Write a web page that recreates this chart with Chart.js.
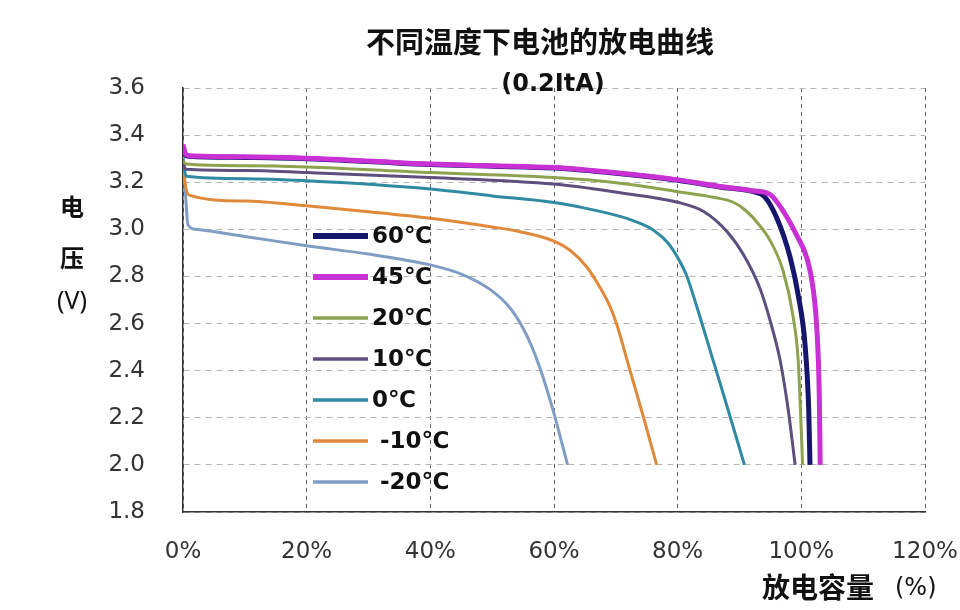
<!DOCTYPE html>
<html>
<head>
<meta charset="utf-8">
<script src="https://cdn.jsdelivr.net/npm/chart.js@4/dist/chart.umd.min.js"></script>
<style>
    body { margin: 0; background: #ffffff; }
</style>
</head>
<body>
<canvas id="grafico" width="960" height="610"></canvas>
<script>
const titulo = '不同温度下电池的放电曲线';
const subtitulo = '(0.2ItA)';

const labelsTemp = ['60℃', '45℃', '20℃', '10℃', '0℃', ' -10℃', ' -20℃'];

const ticksX = [0, 20, 40, 60, 80, 100, 120];
const ticksY = [1.8, 2.0, 2.2, 2.4, 2.6, 2.8, 3.0, 3.2, 3.4, 3.6];

// capacidade (%) / tensao (V) de cada curva
const cap60 = [0, 0.4, 1, 10, 20, 30, 40, 50, 60, 70, 80, 86.8, 92.2, 94, 96, 98.2, 99.5, 100.6, 101.2, 101.4];
const ten60 = [3.35, 3.315, 3.31, 3.305, 3.30, 3.288, 3.275, 3.268, 3.26, 3.238, 3.208, 3.18, 3.16, 3.14, 3.05, 2.88, 2.72, 2.51, 2.23, 2.0];

const cap45 = [0, 0.4, 1, 10, 20, 30, 40, 50, 60, 70, 80, 86.8, 92.2, 95, 97.1, 99.2, 100.9, 101.9, 102.5, 102.9, 103.05];
const ten45 = [3.36, 3.32, 3.312, 3.308, 3.302, 3.29, 3.277, 3.27, 3.262, 3.24, 3.21, 3.182, 3.164, 3.147, 3.076, 2.977, 2.878, 2.75, 2.58, 2.30, 2.0];

const cap20 = [0, 0.5, 10, 20, 40, 60, 70.7, 80, 86, 89, 91, 93, 95, 97.1, 98.7, 99.5, 100, 100.2];
const ten20 = [3.29, 3.277, 3.27, 3.265, 3.241, 3.22, 3.196, 3.16, 3.135, 3.115, 3.08, 3.025, 2.95, 2.82, 2.625, 2.44, 2.14, 2.0];

const cap10 = [0, 0.5, 10, 20, 40, 60, 70.7, 80, 84.2, 88, 90.7, 93.3, 95, 96.6, 97.9, 99];
const ten10 = [3.28, 3.255, 3.25, 3.241, 3.22, 3.192, 3.155, 3.115, 3.076, 2.99, 2.89, 2.75, 2.608, 2.44, 2.23, 2.0];

const cap0 = [0, 0.5, 10, 20, 40, 50, 60, 65, 70.7, 73, 76.1, 78.5, 80, 81.5, 83, 85.2, 87.4, 90.8];
const ten0 = [3.30, 3.225, 3.215, 3.206, 3.171, 3.142, 3.114, 3.09, 3.055, 3.035, 2.996, 2.94, 2.88, 2.8, 2.68, 2.49, 2.30, 2.0];

const capM10 = [0, 0.3, 1, 10, 20, 30, 40, 50, 54.5, 60, 62.6, 65.3, 67.4, 69.1, 70.1, 72.3, 74.5, 76.6];
const tenM10 = [3.28, 3.2, 3.145, 3.12, 3.10, 3.075, 3.047, 3.01, 2.99, 2.95, 2.911, 2.84, 2.755, 2.67, 2.6, 2.4, 2.2, 2.0];

const capM20 = [0, 0.3, 0.8, 2, 10, 20, 30, 40, 45.3, 49.7, 52.9, 55, 56.6, 58, 59.2, 60.2, 61.2, 62.2];
const tenM20 = [3.33, 3.2, 3.02, 3.0, 2.97, 2.93, 2.895, 2.849, 2.807, 2.744, 2.666, 2.58, 2.49, 2.39, 2.29, 2.2, 2.1, 2.0];

const cores = ['#15166c', '#c931d4', '#8ea24f', '#5d4f7e', '#2f8aa2', '#e0893b', '#809dc3'];
const espessuras = [5, 5, 3, 3, 3, 3, 3];
const ordens = [1, 0, 2, 3, 4, 5, 6];

const curvas = [
    [cap60, ten60], [cap45, ten45], [cap20, ten20], [cap10, ten10],
    [cap0, ten0], [capM10, tenM10], [capM20, tenM20]
];

const datasets = curvas.map(([cap, ten], i) => ({
    label: labelsTemp[i],
    data: cap.map((c, j) => ({ x: c, y: ten[j] })),
    borderColor: cores[i],
    backgroundColor: cores[i],
    borderWidth: espessuras[i],
    pointRadius: 0,
    cubicInterpolationMode: 'monotone',
    order: ordens[i]
}));

// legenda dentro da area do grafico
const legendaInterna = {
    id: 'legendaInterna',
    afterDatasetsDraw(chart) {
        const { ctx, chartArea } = chart;
        const x0 = chartArea.left + 130;
        const y0 = chartArea.top + 148;
        ctx.save();
        ctx.font = 'bold 23px "DejaVu Sans", "Noto Sans CJK SC"';
        ctx.textBaseline = 'middle';
        ctx.fillStyle = '#111111';
        datasets.forEach((ds, i) => {
            const y = y0 + i * 41;
            ctx.strokeStyle = ds.borderColor;
            ctx.lineWidth = i < 2 ? 6 : 3.5;
            ctx.beginPath();
            ctx.moveTo(x0, y);
            ctx.lineTo(x0 + 55, y);
            ctx.stroke();
            ctx.fillText(ds.label, x0 + 59, y + 1);
        });
        ctx.restore();
    }
};

// titulos
const textos = {
    id: 'textos',
    afterDraw(chart) {
        const { ctx } = chart;
        ctx.save();
        ctx.fillStyle = '#111111';
        ctx.textBaseline = 'middle';
        ctx.textAlign = 'center';
        ctx.font = 'bold 29px "Noto Sans CJK SC"';
        ctx.fillText(titulo, 540, 42);
        ctx.font = 'bold 24px "DejaVu Sans"';
        ctx.fillText(subtitulo, 553, 85);

        ctx.font = 'bold 24px "Noto Sans CJK SC"';
        ctx.fillText('电', 72, 207);
        ctx.fillText('压', 72, 258);
        ctx.font = '25px "Noto Sans"';
        ctx.fillText('(V)', 72, 302);

        ctx.textAlign = 'left';
        ctx.font = 'bold 28px "Noto Sans CJK SC"';
        ctx.fillText('放电容量', 762, 587);
        ctx.font = '24px "DejaVu Sans"';
        ctx.fillText('(%)', 895, 589);
        ctx.restore();
    }
};

const config = {
    type: 'line',
    data: { datasets: datasets },
    options: {
        responsive: false,
        animation: false,
        layout: { padding: { left: 0, top: 88, right: 35, bottom: 0 } },
        plugins: {
            legend: { display: false },
            title: { display: false },
            tooltip: { enabled: false }
        },
        scales: {
            x: {
                type: 'linear',
                min: 0,
                max: 120,
                afterBuildTicks: (scale) => { scale.ticks = ticksX.map(v => ({ value: v })); },
                afterFit: (scale) => {
                    scale.height = 98;
                    scale.paddingLeft = 0;
                    scale.paddingRight = 0;
                },
                ticks: {
                    callback: (v) => v + '%',
                    color: '#333333',
                    font: { family: 'DejaVu Sans', size: 23 },
                    padding: 26,
                    maxRotation: 0
                },
                grid: { color: '#666666', lineWidth: 1, drawTicks: false },
                border: { color: '#333333', width: 1.5, dash: [4, 4] }
            },
            y: {
                min: 1.8,
                max: 3.6,
                afterBuildTicks: (scale) => { scale.ticks = ticksY.map(v => ({ value: v })); },
                afterFit: (scale) => { scale.width = 183; },
                ticks: {
                    callback: (v) => v.toFixed(1),
                    color: '#333333',
                    font: { family: 'DejaVu Sans', size: 23 },
                    padding: 38
                },
                grid: { color: '#b5b5b5', lineWidth: 1, drawTicks: false },
                border: { color: '#333333', width: 1.5, dash: [6, 5] }
            }
        }
    },
    plugins: [legendaInterna, textos]
};

const grafico = new Chart(document.getElementById('grafico'), config);
</script>
</body>
</html>
